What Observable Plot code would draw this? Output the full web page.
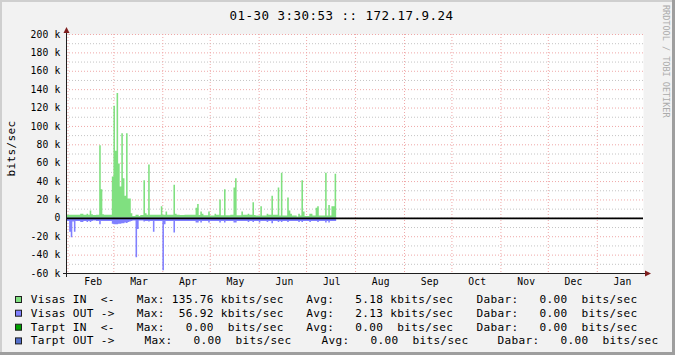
<!DOCTYPE html>
<html>
<head>
<meta charset="utf-8">
<script src="https://cdn.jsdelivr.net/npm/d3@7"></script>
<script src="https://cdn.jsdelivr.net/npm/@observablehq/plot@0.6"></script>
<style>
html, body { margin: 0; padding: 0; background: #F2F2F2; }
#chart { width: 675px; height: 355px; overflow: hidden; }
svg text { white-space: pre; }
</style>
</head>
<body>
<div id="chart"></div>
<script>
// ---- data (kbits/sec, one value per day, starting at startDate) ----
const startDate = "2008-01-31T01:00:00Z";
const endDate = "2009-01-30T06:00:00Z";

const visasIn = [
  3.5, 3.5, 3.5, 3.5, 3.5, 3.5, 3.5, 3.5, 3.5, 4.5,
  4.5, 3.5, 3.5, 4.5, 3.5, 8, 4, 3, 3, 3.5,
  3.5, 79, 31, 4, 3.5, 3.5, 3.5, 3.5, 3.5, 45,
  122, 73, 135.76, 59, 34, 92, 43, 24, 92, 21,
  21, 5, 2, 2, 3.5, 3.5, 2, 3, 3, 41,
  5, 3.5, 58, 3.5, 3.5, 3.5, 3.5, 3.5, 3.5, 3.5,
  12.5, 3.5, 3.5, 7, 3.5, 3.5, 3.5, 3.5, 36, 4.5,
  3.3, 3.3, 3, 3, 3, 3.3, 3.3, 3.3, 3.3, 3.3,
  3.3, 3.3, 11, 15, 3, 7, 4.5, 2.7, 2.7, 2.7,
  7, 2.5, 2.5, 2.5, 4.5, 3.5, 3.5, 20, 2.7, 2.7,
  31, 2.7, 2.7, 2.7, 3.5, 3.5, 33, 43, 2.7, 2.7,
  2.7, 7, 3.5, 3.5, 3.5, 4.5, 3.5, 3.5, 17, 3,
  2.5, 2.5, 2.5, 12.5, 2.5, 2.5, 2.5, 4.5, 3.5, 3.5,
  24, 3.5, 3.5, 3.5, 33, 2.5, 49, 2.5, 2.5, 2.5,
  22, 8, 4.5, 2.5, 2.5, 2.5, 1.5, 4.5, 2.5, 41,
  7, 2, 2, 2, 4.5, 4.5, 2.5, 2.5, 11, 12.5,
  2.5, 2.5, 2.5, 2.5, 49, 2.5, 14, 2.5, 12.5, 12.5,
  48
];

const visasOut = [
  3.5, 3.5, 15, 21, 4, 15, 3.5, 3.5, 3.5, 4.5,
  4.5, 3.5, 3.5, 4.5, 3.5, 4.5, 3.5, 3, 3, 3.5,
  3.5, 7, 3.5, 3.5, 3.5, 3.5, 3.5, 3.5, 3.5, 6.5,
  7, 7, 7, 6.5, 6.5, 6, 6, 5, 5.5, 4.5,
  4, 3.5, 3, 3, 43, 12, 3, 3, 3, 4,
  3.5, 3.5, 4, 3.5, 3.5, 15, 3.5, 3.5, 3.5, 3.5,
  3.5, 56.92, 7, 3.5, 3.5, 3.5, 3.5, 3.5, 16, 3.5,
  3.5, 3.5, 3.5, 3.5, 3.5, 3.5, 3.5, 3.5, 3.5, 3.5,
  3.5, 3.5, 5, 5, 3.5, 5, 3.5, 3.5, 3.5, 3.5,
  5, 3.5, 3.5, 3.5, 3.5, 3.5, 3.5, 5, 3.5, 3.5,
  5, 3.5, 3.5, 3.5, 3.5, 3.5, 5, 5, 3.5, 3.5,
  3.5, 3.5, 3.5, 3.5, 3.5, 4.5, 3.5, 3.5, 4.5, 3.5,
  3.5, 3.5, 5, 3.5, 3.5, 3.5, 3.5, 4.5, 3.5, 3.5,
  6, 3.5, 3.5, 3.5, 4.5, 3.5, 4.5, 3.5, 3.5, 3.5,
  4.5, 3.5, 3.5, 3.5, 3.5, 3.5, 3.5, 4.5, 3.5, 4.5,
  3.5, 3.5, 3.5, 3.5, 4.5, 3.5, 3.5, 3.5, 3.5, 4.5,
  3.5, 3.5, 3.5, 3.5, 5, 3.5, 5, 3.5, 3.5, 3.5,
  3.5
];

const yTicks = [-60, -40, -20, 0, 20, 40, 60, 80, 100, 120, 140, 160, 180, 200];
const yMinor = [-50, -30, -10, 10, 30, 50, 70, 90, 110, 130, 150, 170, 190];
const monthStarts = ["2008-02-01", "2008-03-01", "2008-04-01", "2008-05-01", "2008-06-01", "2008-07-01",
  "2008-08-01", "2008-09-01", "2008-10-01", "2008-11-01", "2008-12-01", "2009-01-01"];
const monthLabelDates = ["2008-02-17", "2008-03-17", "2008-04-17", "2008-05-17", "2008-06-17", "2008-07-17",
  "2008-08-17", "2008-09-17", "2008-10-17", "2008-11-17", "2008-12-17", "2009-01-17"];

const titleText = "01-30 3:30:53 :: 172.17.9.24";
const yLabel = "bits/sec";
const watermark = "RRDTOOL / TOBI OETIKER";

const legendNames = ["Visas IN  <-", "Visas OUT ->", "Tarpt IN  <-", "Tarpt OUT ->"];
const legendMax = ["Max: 135.76 kbits/sec", "Max:  56.92 kbits/sec", "Max:   0.00  bits/sec", "Max:   0.00  bits/sec"];
const legendAvg = ["Avg:   5.18 kbits/sec", "Avg:   2.13 kbits/sec", "Avg:   0.00  bits/sec", "Avg:   0.00  bits/sec"];
const legendNow = ["Dabar:   0.00  bits/sec", "Dabar:   0.00  bits/sec", "Dabar:   0.00  bits/sec", "Dabar:   0.00  bits/sec"];
const legendColors = ["#80E080", "#8080FF", "#00A000", "#5470CC"];

// ---- build ----
const s = new Date(startDate), e = new Date(endDate);
const DAY = 864e5;
// step series: one point per day start, plus the closing edge of the last day
const toSteps = (vals, sign) => {
  const pts = vals.map((v, i) => ({x: new Date(+s + i * DAY), v: sign * v}));
  pts.push({x: new Date(+s + vals.length * DAY), v: sign * vals[vals.length - 1]});
  return pts;
};
const kfmt = v => v === 0 ? "0" : `${v} k`;
const MONO = "'DejaVu Sans Mono', monospace";
const MGRID = "#EFA7A7";
const GRID = "#C4C4C4";

const chart = Plot.plot({
  width: 675, height: 355,
  marginLeft: 66, marginRight: 32, marginTop: 34, marginBottom: 82,
  style: {background: "#F2F2F2", fontFamily: MONO, fontSize: "9.7px", letterSpacing: "0.16px", color: "#000", overflow: "visible"},
  x: {type: "utc", domain: [s, e], label: null},
  y: {domain: [-60, 200], label: null},
  marks: [
    Plot.frame({fill: "#FFFFFF", stroke: "none"}),
    Plot.ruleY(yMinor, {stroke: GRID, strokeDasharray: "1,2"}),
    Plot.ruleY(yTicks, {stroke: MGRID, strokeDasharray: "1,2"}),
    Plot.ruleX(monthStarts.map(d => new Date(d + "T00:00:00Z")), {stroke: MGRID, strokeDasharray: "1,2"}),
    Plot.areaY(toSteps(visasIn, 1), {x: "x", y1: 0, y2: "v", fill: "#80E080", curve: "step-after"}),
    Plot.areaY(toSteps(visasOut, -1), {x: "x", y1: 0, y2: "v", fill: "#8080FF", curve: "step-after"}),
    Plot.ruleY([0], {stroke: "#000000", strokeWidth: 1.6}),
    Plot.axisY(yTicks, {tickFormat: kfmt, tickSize: 0, tickPadding: 6, label: null}),
    Plot.axisX(monthLabelDates.map(d => new Date(d + "T00:00:00Z")), {tickFormat: d3.utcFormat("%b"), tickSize: 0, tickPadding: 5, label: null})
  ]
});

document.getElementById("chart").appendChild(chart);

// ---- decorations (frame shading, axes arrows, title, legend) ----
const svg = d3.select(chart);
const g = svg.append("g").attr("text-anchor", "start");
// shaded border
g.append("rect").attr("x", 0).attr("y", 0).attr("width", 675).attr("height", 2).attr("fill", "#CFCFCF");
g.append("rect").attr("x", 0).attr("y", 0).attr("width", 2).attr("height", 355).attr("fill", "#CFCFCF");
g.append("rect").attr("x", 672).attr("y", 0).attr("width", 3).attr("height", 355).attr("fill", "#9E9E9E");
g.append("rect").attr("x", 0).attr("y", 352).attr("width", 675).attr("height", 3).attr("fill", "#9E9E9E");

// axes
g.append("line").attr("x1", 66.5).attr("x2", 66.5).attr("y1", 277).attr("y2", 30).attr("stroke", "#1F1F1F");
g.append("line").attr("x1", 63).attr("x2", 647).attr("y1", 273.5).attr("y2", 273.5).attr("stroke", "#1F1F1F");
g.append("path").attr("d", "M66.5,27 L63.5,33 L69.5,33 Z").attr("fill", "#7F1F1F");
g.append("path").attr("d", "M651,273.5 L645,270.5 L645,276.5 Z").attr("fill", "#7F1F1F");

// title
g.append("text").attr("x", 341.5).attr("y", 20).attr("text-anchor", "middle")
  .attr("font-family", MONO).attr("font-size", 12.5).attr("letter-spacing", "0.47px").attr("fill", "#000")
  .text(titleText);

// y label
g.append("text").attr("transform", "translate(15,148.5) rotate(-90)").attr("text-anchor", "middle")
  .attr("font-family", MONO).attr("font-size", 11.1).attr("letter-spacing", "0.32px").attr("fill", "#000")
  .text(yLabel);

// watermark
g.append("text").attr("transform", "translate(662.5,5) rotate(90)").attr("text-anchor", "start")
  .attr("font-family", MONO).attr("font-size", 8.5).attr("letter-spacing", "0px").attr("fill", "#ABABAB")
  .text(watermark);

// legend
const rowBase = [303, 316.7, 330.7, 344.4];
const colX = [[30.8, 136.8, 306.3, 476.5], [30.8, 136.8, 306.3, 476.5], [30.8, 136.8, 306.3, 476.5], [30.8, 144.5, 321.5, 497.5]];
legendNames.forEach((name, i) => {
  g.append("rect").attr("x", 15.5).attr("y", rowBase[i] - 6.5).attr("width", 6).attr("height", 6)
    .attr("fill", legendColors[i]).attr("stroke", "#202020").attr("stroke-width", 1);
  [name, legendMax[i], legendAvg[i], legendNow[i]].forEach((t, j) => {
    g.append("text").attr("x", colX[i][j]).attr("y", rowBase[i]).attr("text-anchor", "start")
      .attr("font-family", MONO).attr("font-size", 11.1).attr("letter-spacing", "0.32px").attr("fill", "#000")
      .text(t);
  });
});
</script>
</body>
</html>
